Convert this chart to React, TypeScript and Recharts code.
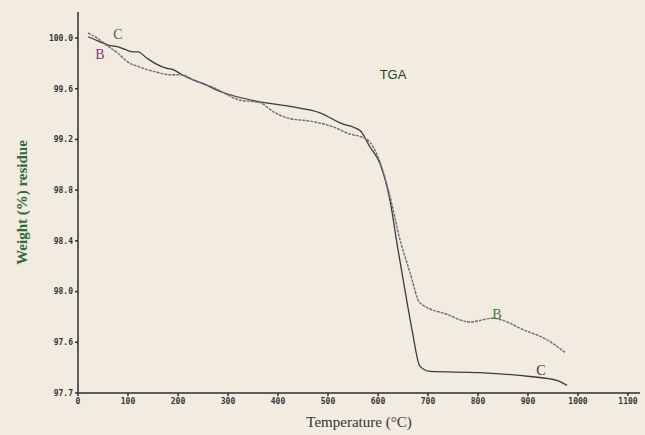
import { CartesianGrid, Line, LineChart, ReferenceDot, XAxis, YAxis, Label } from 'recharts'

// curve C (solid)
const tempC = [20, 44, 64, 80, 94, 110, 120, 138, 154, 178, 190, 208, 230, 244, 290, 358, 424, 484, 524, 564, 584, 604, 624, 640, 654, 668, 684, 704, 804, 904, 958, 978]
const weightC = [100.01, 99.97, 99.94, 99.93, 99.91, 99.89, 99.89, 99.84, 99.8, 99.76, 99.75, 99.71, 99.67, 99.65, 99.57, 99.5, 99.46, 99.41, 99.33, 99.27, 99.14, 99.01, 98.72, 98.33, 98.01, 97.7, 97.41, 97.37, 97.36, 97.33, 97.3, 97.26]

// curve B (dashed)
const tempB = [20, 38, 58, 80, 100, 124, 158, 184, 208, 230, 270, 324, 364, 390, 418, 470, 510, 538, 578, 604, 624, 644, 664, 684, 738, 784, 830, 844, 890, 938, 974]
const weightB = [100.04, 100.0, 99.94, 99.88, 99.81, 99.77, 99.73, 99.71, 99.71, 99.67, 99.61, 99.51, 99.49, 99.42, 99.37, 99.34, 99.3, 99.25, 99.2, 99.02, 98.75, 98.41, 98.15, 97.91, 97.82, 97.76, 97.79, 97.78, 97.7, 97.62, 97.52]

const xTicks = [0, 100, 200, 300, 400, 500, 600, 700, 800, 900, 1000, 1100]
const yTicks = [100.0, 99.6, 99.2, 98.8, 98.4, 98.0, 97.6, 97.2]
const yTickLabels = ['100.0', '99.6', '99.2', '98.8', '98.4', '98.0', '97.6', '97.7']

const seriesC = tempC.map((t, i) => ({ t, w: weightC[i] }))
const seriesB = tempB.map((t, i) => ({ t, w: weightB[i] }))

const ink = '#2e2e2e'
const tickStyle = { fontFamily: 'DejaVu Sans Mono', fontSize: 8, fontWeight: 700, fill: '#333' }

export default function App() {
  return (
    <div style={{ position: 'fixed', left: 0, top: 0, width: 645, height: 435, background: '#f2ece0' }}>
      <LineChart width={645} height={435} margin={{ top: 12, right: 5, bottom: 0, left: 0 }}>
        <CartesianGrid stroke="none" />
        <XAxis
          type="number"
          dataKey="t"
          domain={[0, 1124]}
          ticks={xTicks}
          allowDataOverflow
          height={42}
          tickSize={3}
          stroke={ink}
          strokeWidth={1.5}
          tick={tickStyle}
        >
          <Label
            value="Temperature (°C)"
            position="insideBottom"
            offset={8}
            style={{ fontFamily: 'Liberation Serif', fontSize: 15, fill: '#333' }}
          />
        </XAxis>
        <YAxis
          type="number"
          domain={[97.2, 100.205]}
          ticks={yTicks}
          allowDataOverflow
          width={78}
          tickSize={3}
          stroke={ink}
          strokeWidth={1.5}
          tick={tickStyle}
          tickFormatter={(v: number) => yTickLabels[yTicks.indexOf(v)] ?? ''}
        >
          <Label
            value="Weight (%) residue"
            angle={-90}
            position="insideLeft"
            offset={22}
            style={{ fontFamily: 'Liberation Serif', fontSize: 15, fontWeight: 700, fill: '#2f6b35', textAnchor: 'middle' }}
          />
        </YAxis>
        <Line
          data={seriesC}
          dataKey="w"
          type="monotone"
          stroke="#3a3a3a"
          strokeWidth={1.3}
          dot={false}
          isAnimationActive={false}
        />
        <Line
          data={seriesB}
          dataKey="w"
          type="monotone"
          stroke="#9b3fb0"
          strokeWidth={1.4}
          strokeDasharray="3 5"
          dot={false}
          isAnimationActive={false}
        />
        <Line
          data={seriesB}
          dataKey="w"
          type="monotone"
          stroke="#3f9a3f"
          strokeWidth={1.4}
          strokeDasharray="3 5"
          strokeDashoffset={4}
          dot={false}
          isAnimationActive={false}
        />
        <ReferenceDot x={44} y={99.87} r={0} label={{ value: 'B', fill: '#7a3a80', fontSize: 14, fontFamily: 'Liberation Serif' }} />
        <ReferenceDot x={80} y={100.03} r={0} label={{ value: 'C', fill: '#3a6a2a', fontSize: 14, fontFamily: 'Liberation Serif' }} />
        <ReferenceDot x={630} y={99.71} r={0} label={{ value: 'TGA', fill: '#1f3d1f', fontSize: 13, fontFamily: 'Liberation Sans' }} />
        <ReferenceDot x={838} y={97.82} r={0} label={{ value: 'B', fill: '#3a7a30', fontSize: 14, fontFamily: 'Liberation Serif' }} />
        <ReferenceDot x={926} y={97.38} r={0} label={{ value: 'C', fill: '#333', fontSize: 14, fontFamily: 'Liberation Serif' }} />
      </LineChart>
    </div>
  )
}
